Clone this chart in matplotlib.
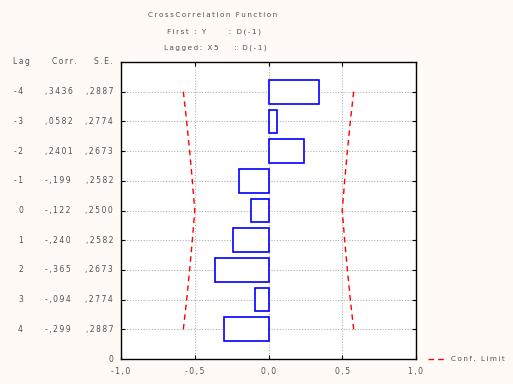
import matplotlib.pyplot as plt
import matplotlib.transforms as mtransforms

lags = [-4, -3, -2, -1, 0, 1, 2, 3, 4]
corr = [0.3436, 0.0582, 0.2401, -0.199, -0.122, -0.240, -0.365, -0.094, -0.299]
se = [0.2887, 0.2774, 0.2673, 0.2582, 0.2500, 0.2582, 0.2673, 0.2774, 0.2887]
corr_txt = [",3436", ",0582", ",2401", "-,199", "-,122", "-,240", "-,365", "-,094", "-,299"]
se_txt = [",2887", ",2774", ",2673", ",2582", ",2500", ",2582", ",2673", ",2774", ",2887"]
xticks = [-1.0, -0.5, 0.0, 0.5, 1.0]
xtick_labels = ["-1,0", "-0,5", "0,0", "0,5", "1,0"]

txt_col = "#505050"


def sp(s):
    # letter-spaced look of the original
    return "\u2009".join(s)


fig = plt.figure(figsize=(5.13, 3.84), dpi=100)
fig.patch.set_facecolor("#fffaf6")
ax = fig.add_axes([121 / 513, 25 / 384, 295 / 513, 297 / 384])
ax.set_facecolor("white")

ax.barh(lags, corr, height=0.8, left=0, color="white", edgecolor="#0000ff",
        linewidth=1.2, zorder=3)

upper = [2 * s for s in se]
lower = [-2 * s for s in se]
ax.plot(upper, lags, color="red", linestyle=(0, (4, 3)), linewidth=1, zorder=4)
ax.plot(lower, lags, color="red", linestyle=(0, (4, 3)), linewidth=1, zorder=4)

ax.set_xlim(-1, 1)
ax.set_ylim(5, -5)
ax.set_xticks(xticks)
ax.set_xticklabels([sp(t) for t in xtick_labels], fontsize=5.5, color=txt_col)
ax.set_yticks(lags)
ax.set_yticklabels([])
ax.tick_params(direction="in", length=3, width=0.8, top=True, right=True,
               pad=6)
for s in ax.spines.values():
    s.set_linewidth(1.0)
ax.grid(True, linestyle=(0, (1, 1.5)), color="#b0b0b0", linewidth=0.8, zorder=1)
ax.set_axisbelow(True)

# table on the left
tr = mtransforms.blended_transform_factory(fig.transFigure, ax.transData)
kw = dict(fontsize=5.5, color=txt_col, va="center", transform=tr)
for lag, c, s in zip(lags, corr_txt, se_txt):
    ax.text(23 / 513, lag, sp(str(lag)), ha="right", **kw)
    ax.text(45 / 513, lag, sp(c), ha="left", **kw)
    ax.text(113 / 513, lag, sp(s), ha="right", **kw)
ax.text(113 / 513, 5, "0", ha="right", **kw)

fk = dict(fontsize=5.5, color=txt_col, va="center")
fig.text(13 / 513, 1 - 62 / 384, sp("Lag"), ha="left", **fk)
fig.text(52 / 513, 1 - 62 / 384, sp("Corr."), ha="left", **fk)
fig.text(113 / 513, 1 - 62 / 384, sp("S.E."), ha="right", **fk)

tk = dict(fontsize=5.2, color=txt_col, va="center")
fig.text(213 / 513, 1 - 15 / 384, sp("CrossCorrelation Function"), ha="center", **tk)
fig.text(214 / 513, 1 - 32 / 384, sp("First : Y") + "          " + sp(": D(-1)"), ha="center", **tk)
fig.text(215 / 513, 1 - 48 / 384, sp("Lagged: X5") + "       " + sp(": D(-1)"), ha="center", **tk)

# legend
fig.lines.append(plt.Line2D([428 / 513, 447 / 513], [1 - 359 / 384, 1 - 359 / 384],
                            transform=fig.transFigure, color="red",
                            linestyle=(0, (4, 3)), linewidth=1))
fig.text(451 / 513, 1 - 359 / 384, sp("Conf. Limit"), ha="left", **tk)

fig.savefig("out.png", dpi=100, facecolor=fig.get_facecolor())
